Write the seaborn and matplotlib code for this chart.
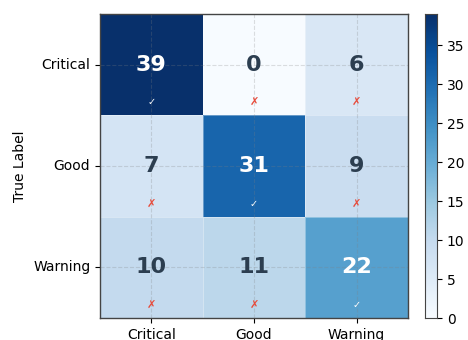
import numpy as np
import pandas as pd
import matplotlib
matplotlib.use("Agg")
import matplotlib.pyplot as plt
import seaborn as sns

classes = ["Critical", "Good", "Warning"]
row_critical = [39, 0, 6]
row_good = [7, 31, 9]
row_warning = [10, 11, 22]

cm = pd.DataFrame([row_critical, row_good, row_warning], index=classes, columns=classes)

fig = plt.figure(figsize=(4.68, 3.40), dpi=100)
ax = fig.add_axes([0.2137, 0.0647, 0.658, 0.894])
cax = fig.add_axes([0.908, 0.0647, 0.026, 0.894])

sns.heatmap(cm, cmap="Blues", vmin=0, vmax=cm.values.max(), ax=ax, cbar_ax=cax,
            annot=False, linewidths=0.6, linecolor=(1, 1, 1, 0.35))

thresh = cm.values.max() / 2
for i in range(len(classes)):
    for j in range(len(classes)):
        v = cm.values[i, j]
        color = "white" if v > thresh else "#2c3e50"
        ax.text(j + 0.5, i + 0.5, str(v), ha="center", va="center",
                fontsize=16, fontweight="bold", color=color)
        if i == j:
            ax.text(j + 0.5, i + 0.87, "\u2713", ha="center", va="center",
                    fontsize=7, color="white")
        else:
            ax.text(j + 0.5, i + 0.87, "\u2717", ha="center", va="center",
                    fontsize=8, color="#e74c3c")

ax.grid(True, linestyle="--", color="gray", alpha=0.25, linewidth=0.8)
for s in ax.spines.values():
    s.set_visible(True)
    s.set_color("#444444")
    s.set_linewidth(1.0)
ax.set_ylabel("True Label", fontsize=10)
ax.set_xlabel("")
ax.tick_params(axis="both", labelsize=10, length=3.5)
ax.set_yticklabels(classes, rotation=0)
ax.set_xticklabels(classes, rotation=0)

cax.tick_params(labelsize=10)
for s in cax.spines.values():
    s.set_visible(True)
    s.set_color("#444444")

fig.savefig("out.png", dpi=100)
